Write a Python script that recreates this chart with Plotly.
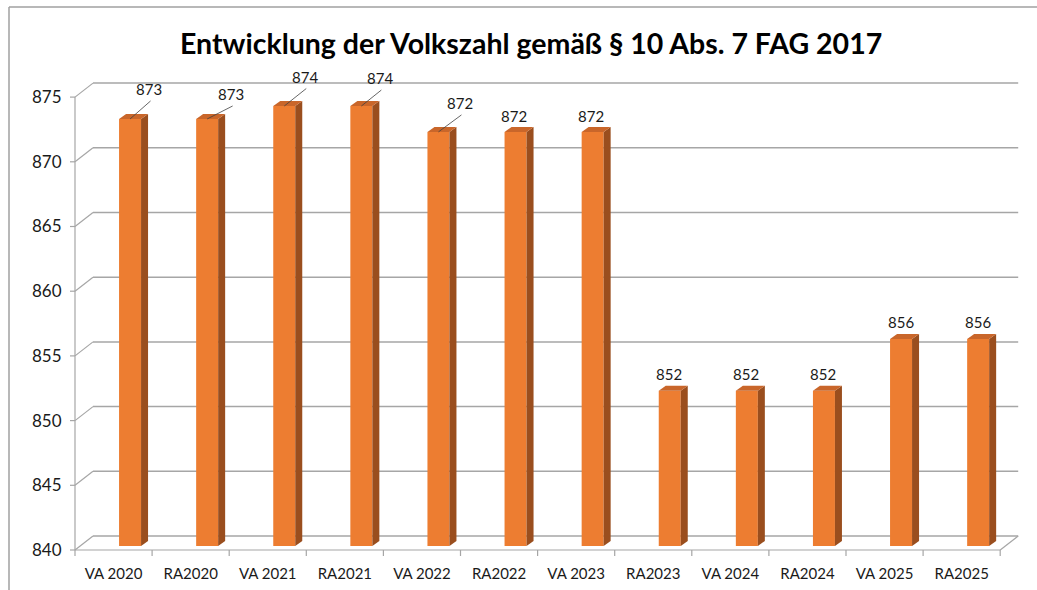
import plotly.graph_objects as go

# ---------------- data ----------------
categories = ["VA 2020", "RA2020", "VA 2021", "RA2021", "VA 2022", "RA2022",
              "VA 2023", "RA2023", "VA 2024", "RA2024", "VA 2025", "RA2025"]
values = [873, 873, 874, 874, 872, 872, 872, 852, 852, 852, 856, 856]
y_ticks = [840, 845, 850, 855, 860, 865, 870, 875]
title_text = "Entwicklung der Volkszahl gemäß § 10 Abs. 7 FAG 2017"

# ---------------- style / geometry constants ----------------
W, H = 1037, 590
PX_CAT = 77.1          # pixels per category on front plane
PX_UNIT = 12.94        # pixels per value unit
FRONT_LEFT_PX = 75
FLOOR_PX = 550
Y_MIN, Y_MAX = 840, 875

x_lo = -0.5 - FRONT_LEFT_PX / PX_CAT
x_hi = x_lo + W / PX_CAT
y_hi = Y_MIN + FLOOR_PX / PX_UNIT
y_lo = y_hi - H / PX_UNIT

def dxp(px):
    return px / PX_CAT

def dyp(px):
    return px / PX_UNIT

DEPTH_X, DEPTH_Y = dxp(18), dyp(14)        # wall depth
BAR_SHIFT = dxp(16.5)                       # bar centre offset from category centre
BAR_HW = dxp(11)                            # half width of bar front face
BAR_DX, BAR_DY = dxp(7), dyp(5)             # bar depth
BAR_LIFT = dyp(4)

FRONT = "#ED7D31"
SIDE = "#9A4E1E"
TOP = "#C9662A"
GRID = "#A6A6A6"
FONT = "Lato"

# label offsets (px, y up) relative to bar top centre, and whether a leader line is drawn
label_off = [(19, 30, True), (24, 25, True), (20.5, 29.5, True), (18.5, 28, True),
             (21.5, 29, True), (-1.5, 16, False), (-1.5, 16, False), (-1, 17, False),
             (-1, 17, False), (-1, 17, False), (0, 17, False), (0, 17, False)]

shapes = []
annotations = []
n = len(categories)

# back wall grid lines + left wall diagonals
for t in y_ticks:
    shapes.append(dict(type="line", layer="below", xref="x", yref="y",
                       x0=-0.5 + DEPTH_X, y0=t + DEPTH_Y, x1=n - 0.5 + DEPTH_X, y1=t + DEPTH_Y,
                       line=dict(color=GRID, width=1.5)))
    shapes.append(dict(type="line", layer="below", xref="x", yref="y",
                       x0=-0.5, y0=t, x1=-0.5 + DEPTH_X, y1=t + DEPTH_Y,
                       line=dict(color=GRID, width=1.2)))
    # y tick marks
    shapes.append(dict(type="line", layer="below", xref="x", yref="y",
                       x0=-0.5 - dxp(5), y0=t, x1=-0.5, y1=t,
                       line=dict(color=GRID, width=1.2)))

# front y axis line
shapes.append(dict(type="line", layer="below", xref="x", yref="y",
                   x0=-0.5, y0=Y_MIN, x1=-0.5, y1=Y_MAX,
                   line=dict(color=GRID, width=1.2)))
# front floor line and right floor edge
shapes.append(dict(type="line", layer="below", xref="x", yref="y",
                   x0=-0.5, y0=Y_MIN, x1=n - 0.5, y1=Y_MIN,
                   line=dict(color=GRID, width=1.2)))
shapes.append(dict(type="line", layer="below", xref="x", yref="y",
                   x0=n - 0.5, y0=Y_MIN, x1=n - 0.5 + DEPTH_X, y1=Y_MIN + DEPTH_Y,
                   line=dict(color=GRID, width=1.2)))
# category boundary tick marks
for k in range(n + 1):
    shapes.append(dict(type="line", layer="below", xref="x", yref="y",
                       x0=k - 0.5, y0=Y_MIN, x1=k - 0.5, y1=Y_MIN - dyp(6),
                       line=dict(color=GRID, width=1.2)))

# bars: front faces as a bar trace, side/top faces as shapes
bar_x = [i + BAR_SHIFT for i in range(n)]
bar_base = Y_MIN + BAR_LIFT
bar_top = [v + BAR_LIFT for v in values]
for i, v in enumerate(values):
    cx = bar_x[i]
    top = bar_top[i]
    xl, xr = cx - BAR_HW, cx + BAR_HW
    shapes.append(dict(type="path", xref="x", yref="y", layer="above",
                       path=f"M {xr},{bar_base} L {xr + BAR_DX},{bar_base + BAR_DY} "
                            f"L {xr + BAR_DX},{top + BAR_DY} L {xr},{top} Z",
                       fillcolor=SIDE, line=dict(width=0)))
    shapes.append(dict(type="path", xref="x", yref="y", layer="above",
                       path=f"M {xl},{top} L {xr},{top} L {xr + BAR_DX},{top + BAR_DY} "
                            f"L {xl + BAR_DX},{top + BAR_DY} Z",
                       fillcolor=TOP, line=dict(width=0)))
    ox, oy, leader = label_off[i]
    annotations.append(dict(x=cx, y=top, xref="x", yref="y", text=str(v),
                            showarrow=False, xshift=ox, yshift=oy,
                            font=dict(family=FONT, size=15, color="#1A1A1A")))
    if leader:
        shapes.append(dict(type="line", xref="x", yref="y", layer="above",
                           x0=cx, y0=top, x1=cx + dxp(ox + 1.5), y1=top + dyp(oy - 12),
                           line=dict(color="#404040", width=0.8)))

# outer frame (top and left edge)
shapes.append(dict(type="line", xref="paper", yref="paper",
                   x0=9 / W, y0=1 - 7 / H, x1=1, y1=1 - 7 / H,
                   line=dict(color="#A0A0A0", width=1.5)))
shapes.append(dict(type="line", xref="paper", yref="paper",
                   x0=9 / W, y0=1 - 7 / H, x1=9 / W, y1=0,
                   line=dict(color="#A0A0A0", width=1.5)))

annotations.append(dict(x=531 / W, y=1 - 43 / H, xref="paper", yref="paper",
                        text=f"<b>{title_text}</b>", showarrow=False,
                        xanchor="center", yanchor="middle",
                        font=dict(family=FONT, size=28.5, color="#000000")))

fig = go.Figure()
fig.add_trace(go.Bar(x=bar_x, y=[t - bar_base for t in bar_top], base=bar_base,
                     width=2 * BAR_HW, marker=dict(color=FRONT, line=dict(width=0)),
                     hovertext=categories, hoverinfo="text+y", showlegend=False))

fig.update_layout(
    width=W, height=H,
    margin=dict(l=0, r=0, t=0, b=0),
    paper_bgcolor="white", plot_bgcolor="white",
    shapes=shapes, annotations=annotations,
    showlegend=False,
    xaxis=dict(range=[x_lo, x_hi], showgrid=False, zeroline=False, showline=False,
               anchor="free", position=(H - FLOOR_PX) / H,
               tickmode="array", tickvals=list(range(n)), ticktext=categories,
               ticks="outside", ticklen=10, tickcolor="rgba(0,0,0,0)",
               tickfont=dict(family=FONT, size=15, color="#1A1A1A")),
    yaxis=dict(range=[y_lo, y_hi], showgrid=False, zeroline=False, showline=False,
               anchor="free", position=FRONT_LEFT_PX / W,
               tickmode="array", tickvals=y_ticks, ticktext=[str(t) for t in y_ticks],
               ticks="outside", ticklen=10, tickcolor="rgba(0,0,0,0)",
               tickfont=dict(family=FONT, size=17, color="#1A1A1A")),
)

fig.write_html("out.html", config={"displayModeBar": False},
               post_script="document.body.style.margin='0px';document.body.style.overflow='hidden';")
